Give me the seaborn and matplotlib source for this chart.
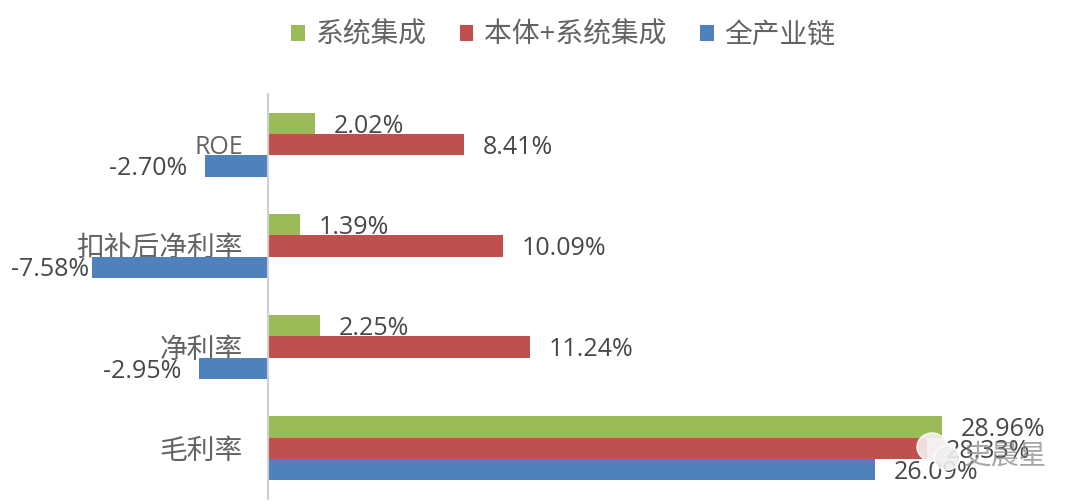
import matplotlib
matplotlib.use('Agg')
import matplotlib.pyplot as plt
from matplotlib.patches import Ellipse
import pandas as pd
import seaborn as sns

# valores
categorias = ['ROE', '扣补后净利率', '净利率', '毛利率']
series = ['系统集成', '本体+系统集成', '全产业链']
sistema = [2.02, 1.39, 2.25, 28.96]
cuerpo = [8.41, 10.09, 11.24, 28.33]
cadena = [-2.70, -7.58, -2.95, 26.09]
colores = ['#9BBB59', '#C0504D', '#4F81BD']

df = pd.DataFrame({
    'categoria': categorias * 3,
    'serie': [s for s in series for _ in categorias],
    'valor': sistema + cuerpo + cadena,
})

sns.set_theme(style='white')
plt.rcParams['font.family'] = ['Open Sans', 'Noto Sans CJK SC', 'DejaVu Sans']

W, H = 1080, 503
fig = plt.figure(figsize=(W / 100, H / 100), dpi=100)
ax = fig.add_axes([0, (H - 499) / H, 1, (499 - 94) / H])
ax.patch.set_alpha(0)

sns.barplot(data=df, y='categoria', x='valor', hue='serie', order=categorias,
            hue_order=series, palette=colores, orient='h', width=0.63, gap=0,
            saturation=1, legend=True, linewidth=0, ax=ax)

ax.set_xlim(-268 / 23.27, (W - 268) / 23.27)
ax.set_ylim(3.5, -0.5)
ax.set_xlabel('')
ax.set_ylabel('')
ax.set_xticks([])
for lado in ['top', 'right', 'bottom']:
    ax.spines[lado].set_visible(False)
ax.spines['left'].set_position(('data', 0))
ax.spines['left'].set_color('#D0D0D0')
ax.spines['left'].set_linewidth(1.5)
ax.set_zorder(1)
ax.tick_params(axis='y', length=0, pad=18, labelcolor='#636363')
for t in ax.get_yticklabels():
    t.set_fontsize(18 if t.get_text() == 'ROE' else 20)

# etiquetas de datos
for cont in ax.containers:
    for barra, v in zip(cont, cont.datavalues):
        pad = 13.5
        if v < 0:
            pad = 2 if v < -5 else 13
        ax.annotate(f'{v:.2f}%', (v, barra.get_y() + barra.get_height() / 2),
                    xytext=(pad if v > 0 else -pad, -2), textcoords='offset points',
                    ha='left' if v > 0 else 'right', va='center',
                    fontsize=18, color='#484848', clip_on=False)

h, l = ax.get_legend_handles_labels()
ax.get_legend().remove()
fig.legend(h, l, loc='center', bbox_to_anchor=(563 / W, 1 - 36 / H), ncol=3, frameon=False,
           fontsize=20, labelcolor='#636363', handlelength=0.5, handleheight=0.5,
           handletextpad=0.38, columnspacing=1.2)

# marca de agua
for cx, cy, ew, eh, col in [(932, 447, 30, 28, '#F6EEEE'), (947, 458, 26, 24, '#EFEFEF')]:
    fig.add_artist(Ellipse((cx / W, 1 - cy / H), ew / W, eh / H, transform=fig.transFigure,
                           facecolor=col, edgecolor='#FFFFFF', alpha=0.9, zorder=5))
fig.text(1005 / W, 1 - 457 / H, '史晨星', ha='center', va='center', fontsize=20,
         color='#8A8A8A', alpha=0.75, zorder=6)

fig.savefig('out.png', dpi=100)
